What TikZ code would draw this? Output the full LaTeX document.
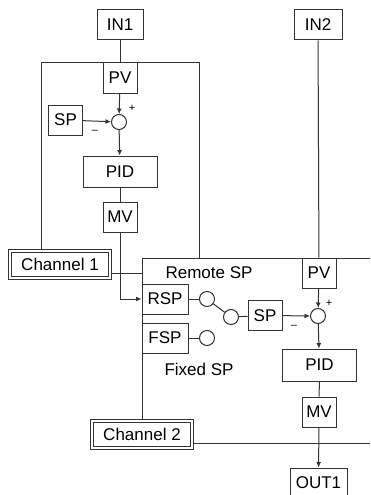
\documentclass[tikz,border=0pt]{standalone}
\usepackage{fontspec}
\setmainfont{Liberation Sans}
\usetikzlibrary{arrows.meta}

\begin{document}
\begin{tikzpicture}[x=1pt, y=-1pt,
    line width=1pt, draw=black!80,
    >={Latex[length=5.5pt,width=5pt]},
    font=\fontsize{17}{20}\selectfont,
    box/.style={draw, minimum width=34pt, minimum height=30pt, inner sep=0pt},
    chanbox/.style={draw, double, double distance=2.6pt, minimum width=100pt, minimum height=27pt, inner sep=0pt},
    sumpt/.style={circle, draw, minimum size=15pt, inner sep=0pt},
    sign/.style={font=\fontsize{11}{12}\selectfont, inner sep=0pt}]

\useasboundingbox (0,0) rectangle (370,495);

% draw frames
\draw (41,249) -- (41,63) -- (199,63) -- (199,258);
\draw (142,419) -- (142,258) -- (370,258);
\draw (194,443.5) -- (370,443.5);
\draw (112,273) -- (142,273);

% draw channel 1 boxes
\node[box, minimum width=46pt] (in1) at (120,25) {IN1};
\node[box, fill=white] (pva) at (120,78) {PV};
\node[sumpt] (suma) at (119,122) {};
\node[box] (spa) at (65.5,120) {SP};
\node[box, minimum width=74pt, minimum height=31pt] (pida) at (120,171.5) {PID};
\node[box] (mva) at (120,217) {MV};
\node[sign] (plusa) at (132,108) {+};
\node[sign] (minusa) at (95,132) {–};
\node[chanbox, fill=white] (cha) at (60,264.5) {Channel 1};

% draw channel 2 boxes
\node[box, minimum width=48pt] (in2) at (318,25) {IN2};
\node[box, fill=white] (pvb) at (319,273) {PV};
\node[sumpt] (sumb) at (318,316) {};
\node[box, minimum width=46pt] (rsp) at (165,299) {RSP};
\node[box, minimum width=46pt] (fsp) at (165,338) {FSP};
\node[sumpt] (swa) at (207,299) {};
\node[sumpt] (swf) at (207,338) {};
\node[sumpt] (swb) at (231,317) {};
\node[box] (spb) at (265,315.5) {SP};
\node[box, minimum width=74pt, minimum height=32pt] (pidb) at (319.5,365) {PID};
\node[box] (mvb) at (319,412) {MV};
\node[sign] (plusb) at (329,303) {+};
\node[sign] (minusb) at (294,327) {–};
\node[chanbox, fill=white] (chb) at (142,434.5) {Channel 2};
\node[box, minimum width=57pt] (out1) at (318.5,483) {OUT1};
\node (remote) at (209,273) {Remote SP};
\node (fixed) at (199,369) {Fixed SP};

% draw connectors
\draw (in1) -- (pva);
\draw[->] (pva) -- (suma);
\draw[->] (spa) -- (suma);
\draw[->] (suma) -- (pida);
\draw (pida) -- (mva);
\draw[->] (mva.south) |- (rsp.west);

\draw (in2) -- (pvb);
\draw (rsp) -- (swa);
\draw (fsp) -- (swf);
\draw (swa) -- (swb);
\draw (swb) -- (spb);
\draw[->] (pvb) -- (sumb);
\draw[->] (spb) -- (sumb);
\draw[->] (sumb) -- (pidb);
\draw (pidb) -- (mvb);
\draw[->] (mvb) -- (out1);

\end{tikzpicture}
\end{document}
